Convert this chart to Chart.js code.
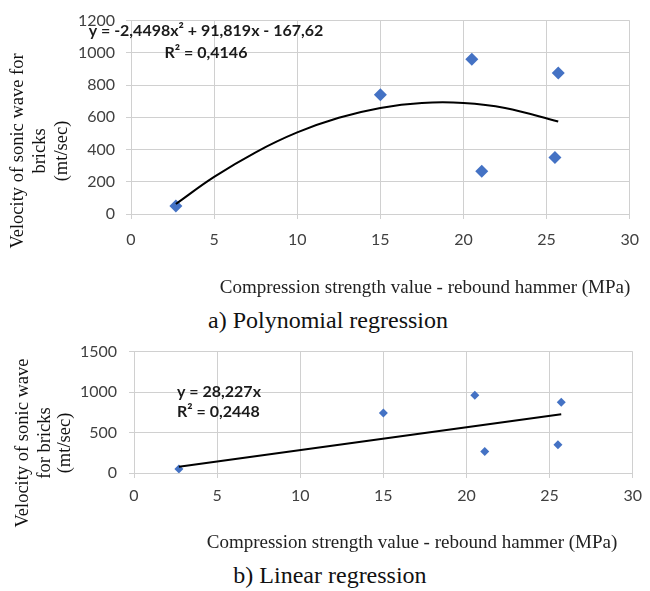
<!DOCTYPE html>
<html>
<head>
<meta charset="utf-8">
<script src="https://cdn.jsdelivr.net/npm/chart.js@4.4.1/dist/chart.umd.min.js"></script>
<style>
  html, body { margin: 0; padding: 0; background: #fff; }
  #page { position: relative; width: 650px; height: 591px; overflow: hidden; }
  .box { position: absolute; left: 0; width: 650px; }
  .caption {
    position: absolute;
    font-family: 'Liberation Serif', 'Times New Roman', serif;
    font-size: 24px;
    color: #111;
    white-space: nowrap;
    transform: translate(-50%, -50%);
  }
</style>
</head>
<body>
<div id="page">
  <div class="box" style="top:0;height:300px"><canvas id="polyChart"></canvas></div>
  <div class="caption" style="left:328px;top:320px">a) Polynomial regression</div>
  <div class="box" style="top:330px;height:230px"><canvas id="linearChart"></canvas></div>
  <div class="caption" style="left:330px;top:575px">b) Linear regression</div>
</div>
<script>
// measured points (same in both panels)
const strength = [2.7, 15.0, 20.5, 21.1, 25.5, 25.7];
const velocity = [50, 740, 960, 265, 350, 875];

// trend lines
const polyTrendX = [2.7, 5, 7.5, 10, 12.5, 15, 17.5, 20, 22.5, 25.7];
const polyTrendY = [62, 230, 383, 506, 597, 658, 689, 689, 658, 574];
const linTrendX = [2.7, 25.7];
const linTrendY = [76, 725];

const xTicks = [0, 5, 10, 15, 20, 25, 30];
const polyYTicks = [0, 200, 400, 600, 800, 1000, 1200];
const linYTicks = [0, 500, 1000, 1500];

const polyLabel = ['y = -2,4498x² + 91,819x - 167,62', 'R² = 0,4146'];
const linLabel = ['y = 28,227x', 'R² = 0,2448'];
const polyYTitle = ['Velocity of sonic wave for', 'bricks', '(mt/sec)'];
const linYTitle = ['Velocity of sonic wave', 'for bricks', '(mt/sec)'];
const xTitle = 'Compression strength value - rebound hammer (MPa)';

const GRID = '#d0d0d0';
const TICK_COLOR = '#404040';
const SERIF = "'Liberation Serif', 'Times New Roman', serif";

function toPoints(xs, ys) {
    return xs.map((x, i) => ({ x: x, y: ys[i] }));
}

// draws axis titles and the trendline equations as canvas text
function textPlugin(items) {
    return {
        id: 'chartText',
        afterDraw(chart) {
            const ctx = chart.ctx;
            items.forEach(it => {
                ctx.save();
                ctx.font = it.font;
                ctx.fillStyle = it.color || '#111';
                ctx.textAlign = it.align || 'center';
                ctx.textBaseline = 'middle';
                ctx.translate(it.x, it.y);
                if (it.rotate) ctx.rotate(it.rotate);
                ctx.fillText(it.text, 0, 0);
                ctx.restore();
            });
        }
    };
}

function axis(ticksArr, axisSize, labelPad, isX) {
    return {
        type: 'linear',
        min: ticksArr[0],
        max: ticksArr[ticksArr.length - 1],
        afterBuildTicks: (s) => { s.ticks = ticksArr.map(v => ({ value: v })); },
        afterFit: (s) => { if (isX) s.height = axisSize; else s.width = axisSize; },
        grid: { color: GRID, lineWidth: 1, tickLength: 5, drawTicks: true },
        border: { color: GRID },
        ticks: {
            color: TICK_COLOR,
            font: { family: 'Lato', size: 16 },
            padding: labelPad,
            maxRotation: 0,
            autoSkip: false,
            callback: (v) => String(v)
        }
    };
}

function buildChart(id, cfg) {
    const items = [];
    cfg.yTitle.forEach((t, i) => {
        items.push({ text: t, x: cfg.yTitleX[i], y: cfg.yTitleY, font: '18.5px ' + SERIF, rotate: -Math.PI / 2 });
    });
    items.push({ text: xTitle, x: cfg.xTitleX, y: cfg.xTitleY, font: '19px ' + SERIF, color: '#222' });
    cfg.eq.forEach((t, i) => {
        items.push({ text: t, x: cfg.eqX, y: cfg.eqY[i], font: 'bold 16px Lato', align: cfg.eqAlign, color: '#1a1a1a' });
    });

    return new Chart(document.getElementById(id), {
        type: 'scatter',
        data: {
            datasets: [
                {
                    data: toPoints(cfg.trendX, cfg.trendY),
                    type: 'line',
                    borderColor: '#000',
                    borderWidth: 2,
                    pointRadius: 0,
                    tension: 0.4,
                    fill: false,
                    order: 0
                },
                {
                    data: toPoints(strength, velocity),
                    pointStyle: 'rectRot',
                    pointRadius: cfg.marker,
                    backgroundColor: '#4472C4',
                    borderColor: '#4472C4',
                    borderWidth: 0,
                    order: 1
                }
            ]
        },
        options: {
            responsive: true,
            maintainAspectRatio: false,
            animation: false,
            layout: { padding: { left: 0, right: 13, top: cfg.top, bottom: 0 } },
            plugins: { legend: { display: false }, tooltip: { enabled: false } },
            scales: {
                x: axis(xTicks, cfg.xAxisH, cfg.xPad, true),
                y: axis(cfg.yTicks, cfg.yAxisW, cfg.yPad, false)
            }
        },
        plugins: [textPlugin(items)]
    });
}

buildChart('polyChart', {
    trendX: polyTrendX, trendY: polyTrendY, yTicks: polyYTicks,
    marker: 6.5, top: 14, xAxisH: 86, xPad: 11, yAxisW: 131, yPad: 11,
    yTitle: polyYTitle, yTitleX: [18, 40, 62], yTitleY: 151,
    xTitleX: 425, xTitleY: 288,
    eq: polyLabel, eqX: 206, eqY: [31, 53], eqAlign: 'center'
});

buildChart('linearChart', {
    trendX: linTrendX, trendY: linTrendY, yTicks: linYTicks,
    marker: 4.5, top: 16, xAxisH: 87, xPad: 8, yAxisW: 134, yPad: 12,
    yTitle: linYTitle, yTitleX: [23, 45, 65], yTitleY: 113,
    xTitleX: 412, xTitleY: 213,
    eq: linLabel, eqX: 177, eqY: [62, 82], eqAlign: 'left'
});
</script>
</body>
</html>
